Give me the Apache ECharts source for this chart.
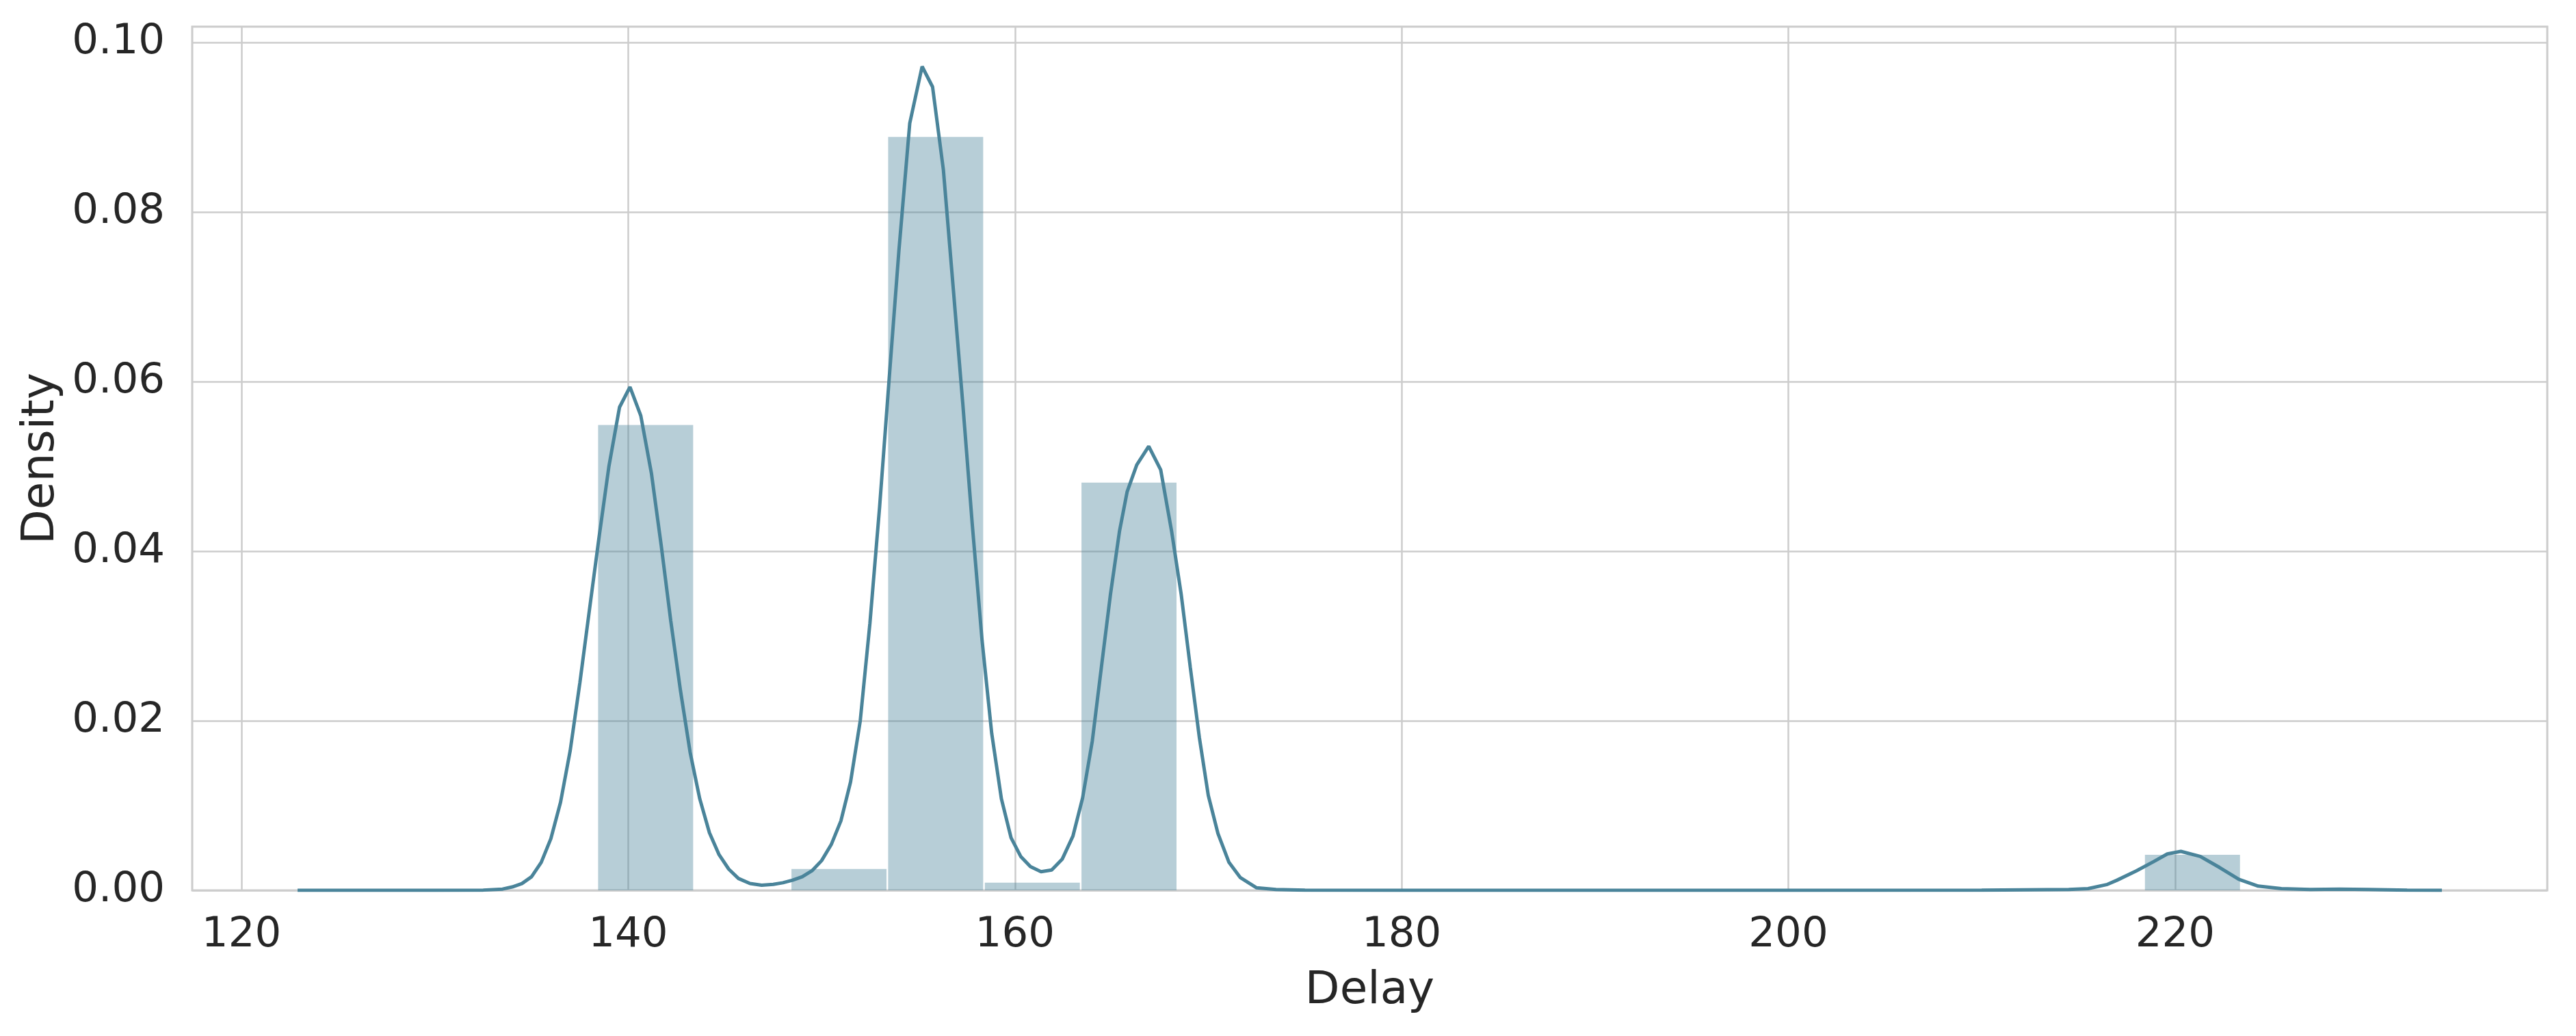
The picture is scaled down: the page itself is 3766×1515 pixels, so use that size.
<!DOCTYPE html>
<html>
<head>
<meta charset="utf-8">
<script src="https://cdn.jsdelivr.net/npm/echarts@6/dist/echarts.min.js"></script>
<style>
html,body{margin:0;padding:0;background:#ffffff;}
#chart{width:3766px;height:1515px;}
</style>
</head>
<body>
<div id="chart"></div>
<script>
// Histogram bins (Delay) and density heights
const binEdges = [138.4,143.4,148.4,153.4,158.4,163.4,168.4,173.4,178.4,183.4,188.4,193.4,198.4,203.4,208.4,213.4,218.4,223.4];
const binDensity = [0.0549,0,0.00253,0.0889,0.00091,0.0481,0,0,0,0,0,0,0,0,0,0,0.0042];

// KDE curve
const kdeX = [122.9,126,130,132.5,133.5,134.0,134.5,135.0,135.5,136.0,136.5,137.0,137.5,138.0,138.5,139.0,139.55,140.09,140.65,141.2,141.7,142.2,142.7,143.2,143.7,144.2,144.7,145.2,145.7,146.3,146.9,147.5,148.0,148.5,149.0,149.5,150.0,150.5,151.0,151.5,152.0,152.5,153.0,153.5,154.0,154.56,155.2,155.74,156.3,156.8,157.3,157.8,158.3,158.8,159.3,159.8,160.3,160.8,161.35,161.9,162.45,163.0,163.5,164.0,164.47,164.94,165.41,165.8,166.3,166.92,167.54,168.1,168.6,169.07,169.54,170.0,170.5,171.07,171.66,172.5,173.5,175.0,180,190,200,210,214.5,215.5,216.5,217.0,218.0,218.9,219.6,220.3,221.3,222.3,223.3,224.3,225.5,227.0,228.5,230.0,232.0,233.8];
const kdeY = [0,0,0,0.00003,0.00015,0.0004,0.0008,0.0016,0.0033,0.0061,0.0104,0.0165,0.0245,0.0332,0.0418,0.0500,0.0570,0.0594,0.0560,0.0492,0.0408,0.0318,0.0236,0.0163,0.0108,0.0068,0.0042,0.0025,0.0014,0.0008,0.0006,0.0007,0.0009,0.0012,0.0016,0.0023,0.0035,0.0054,0.0082,0.0128,0.0200,0.0315,0.0452,0.0605,0.0755,0.0905,0.0972,0.0948,0.0850,0.0713,0.0575,0.0430,0.0295,0.0185,0.0108,0.0062,0.0040,0.0028,0.0022,0.0024,0.0037,0.0064,0.0109,0.0176,0.0263,0.0349,0.0424,0.0470,0.0502,0.0524,0.0496,0.0424,0.0349,0.0263,0.0180,0.0112,0.0067,0.0033,0.0015,0.0003,0.0001,0.00003,0,0,0,0.00003,0.0001,0.0002,0.0007,0.0012,0.0023,0.0034,0.0043,0.0046,0.0040,0.0027,0.0013,0.0005,0.0002,0.0001,0.00015,0.0001,0.00003,0];

const xTicks = [120,140,160,180,200,220];
const yTicks = [0,0.02,0.04,0.06,0.08,0.10];
const xLabel = 'Delay';
const yLabel = 'Density';

const barData = [];
for (let i = 0; i < binDensity.length; i++) {
  if (binDensity[i] > 0) barData.push([binEdges[i], binEdges[i+1], binDensity[i]]);
}
const lineData = kdeX.map((x, i) => [x, kdeY[i]]);

const lineColor = '#4a849a';
const textColor = '#262626';
const gridColor = '#cccccc';
const font = 'DejaVu Sans';

const chart = echarts.init(document.getElementById('chart'), null, {renderer: 'canvas'});
chart.setOption({
  animation: false,
  backgroundColor: '#ffffff',
  grid: {
    left: 281, right: 42, top: 39, bottom: 213,
    show: true, borderColor: gridColor, borderWidth: 3, backgroundColor: 'transparent'
  },
  xAxis: {
    type: 'value', min: 117.45, max: 239.25,
    name: xLabel, nameLocation: 'middle', nameGap: 115,
    nameTextStyle: {fontFamily: font, fontSize: 66, color: textColor},
    axisLine: {show: false},
    axisTick: {show: false, customValues: xTicks},
    axisLabel: {customValues: xTicks, margin: 36, fontFamily: font, fontSize: 61, color: textColor},
    splitLine: {show: true, lineStyle: {color: gridColor, width: 2.5}}
  },
  yAxis: {
    type: 'value', min: 0, max: 0.1019,
    name: yLabel, nameLocation: 'middle', nameGap: 186, nameRotate: 90,
    nameTextStyle: {fontFamily: font, fontSize: 66, color: textColor},
    axisLine: {show: false},
    axisTick: {show: false, customValues: yTicks},
    axisLabel: {customValues: yTicks, margin: 40, fontFamily: font, fontSize: 61, color: textColor,
      formatter: v => v.toFixed(2)},
    splitLine: {show: true, lineStyle: {color: gridColor, width: 2.5}}
  },
  series: [
    {
      type: 'custom',
      data: barData,
      encode: {x: [0, 1], y: 2},
      renderItem: function (params, api) {
        const p0 = api.coord([api.value(0), 0]);
        const p1 = api.coord([api.value(1), api.value(2)]);
        return {
          type: 'rect',
          shape: {x: p0[0] + 1.2, y: p1[1], width: p1[0] - p0[0] - 2.4, height: p0[1] - p1[1]},
          style: {fill: lineColor, opacity: 0.4}
        };
      },
      z: 2
    },
    {
      type: 'line',
      data: lineData,
      showSymbol: false,
      symbol: 'none',
      smooth: false,
      lineStyle: {color: lineColor, width: 5},
      z: 3
    }
  ]
});
</script>
</body>
</html>
